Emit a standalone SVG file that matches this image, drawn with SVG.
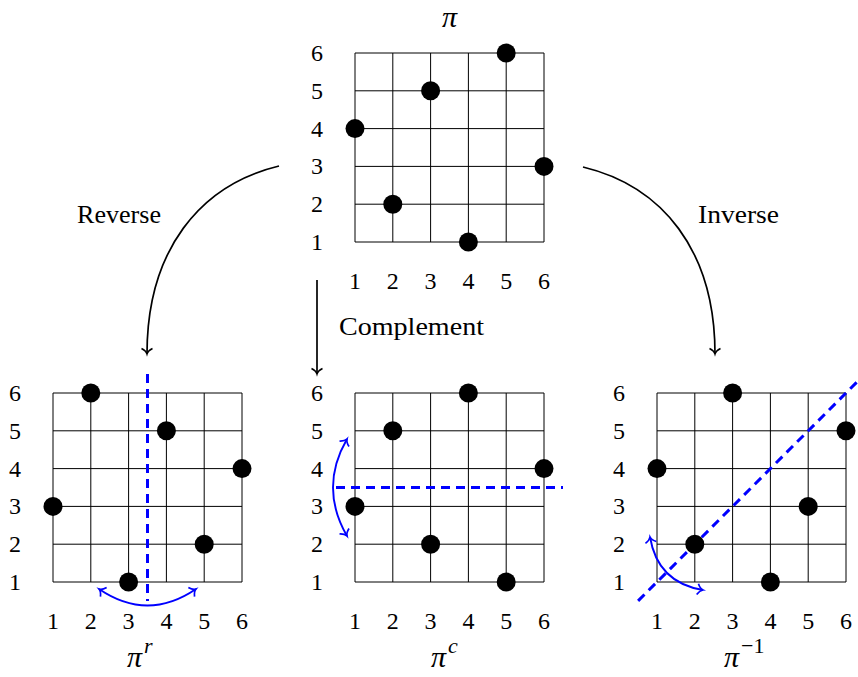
<svg xmlns="http://www.w3.org/2000/svg" width="858" height="677" viewBox="0 0 858 677">
<style>
.grid line{stroke:#000;stroke-width:1}
.dot{fill:#000}
.lbl{font-size:24px;fill:#000;text-anchor:middle}
.word{font-size:25px;fill:#000}
.ttl{font-style:italic;font-size:30px;fill:#000}
.sup{font-style:italic;font-size:22px;fill:#000}
.supn{font-size:22px;fill:#000}
.conn{fill:none;stroke:#000;stroke-width:1.7;marker-end:url(#ah)}
.sym{fill:none;stroke:#0000ff;stroke-width:3;stroke-dasharray:9 6}
.flip{fill:none;stroke:#0000ff;stroke-width:1.9;marker-start:url(#bh);marker-end:url(#bh)}
</style>
<defs>
<marker id="ah" viewBox="-7 -7 14 14" markerWidth="14" markerHeight="14" markerUnits="userSpaceOnUse" refX="0.5" refY="0" orient="auto">
<path d="M-5,-5.5 C-3.3,-2.2 -0.9,-0.4 0.5,0 C-0.9,0.4 -3.3,2.2 -5,5.5" fill="none" stroke="#000" stroke-width="1.5"/>
</marker>
<marker id="bh" viewBox="-7 -7 14 14" markerWidth="14" markerHeight="14" markerUnits="userSpaceOnUse" refX="0.5" refY="0" orient="auto-start-reverse">
<path d="M-5,-5.5 C-3.3,-2.2 -0.9,-0.4 0.5,0 C-0.9,0.4 -3.3,2.2 -5,5.5" fill="none" stroke="#0000ff" stroke-width="1.7"/>
</marker>
<g id="grid" class="grid">
<line x1="0" y1="0" x2="0" y2="189"/><line x1="37.8" y1="0" x2="37.8" y2="189"/><line x1="75.6" y1="0" x2="75.6" y2="189"/><line x1="113.4" y1="0" x2="113.4" y2="189"/><line x1="151.2" y1="0" x2="151.2" y2="189"/><line x1="189" y1="0" x2="189" y2="189"/>
<line x1="0" y1="0" x2="189" y2="0"/><line x1="0" y1="37.8" x2="189" y2="37.8"/><line x1="0" y1="75.6" x2="189" y2="75.6"/><line x1="0" y1="113.4" x2="189" y2="113.4"/><line x1="0" y1="151.2" x2="189" y2="151.2"/><line x1="0" y1="189" x2="189" y2="189"/>
</g>
</defs>
<rect width="858" height="677" fill="#fff"/>
<g font-family="Liberation Serif, DejaVu Serif, serif">
<g id="pi">
<use href="#grid" x="355" y="53"/>
<text class="ttl" x="449.5" y="27" text-anchor="middle">π</text>
<g class="lbl">
<text x="317" y="250">1</text><text x="317" y="212.2">2</text><text x="317" y="174.4">3</text><text x="317" y="136.6">4</text><text x="317" y="98.8">5</text><text x="317" y="61">6</text>
<text x="355" y="289">1</text><text x="392.8" y="289">2</text><text x="430.6" y="289">3</text><text x="468.4" y="289">4</text><text x="506.2" y="289">5</text><text x="544" y="289">6</text>
</g>
<circle class="dot" cx="355" cy="128.6" r="9.5"/><circle class="dot" cx="392.8" cy="204.2" r="9.5"/><circle class="dot" cx="430.6" cy="90.8" r="9.5"/><circle class="dot" cx="468.4" cy="242" r="9.5"/><circle class="dot" cx="506.2" cy="53" r="9.5"/><circle class="dot" cx="544" cy="166.4" r="9.5"/>
</g>

<g id="pi-r">
<use href="#grid" x="53" y="393"/>
<g class="lbl">
<text x="15" y="590">1</text><text x="15" y="552.2">2</text><text x="15" y="514.4">3</text><text x="15" y="476.6">4</text><text x="15" y="438.8">5</text><text x="15" y="401">6</text>
<text x="53" y="629">1</text><text x="90.8" y="629">2</text><text x="128.6" y="629">3</text><text x="166.4" y="629">4</text><text x="204.2" y="629">5</text><text x="242" y="629">6</text>
</g>
<line class="sym" x1="147.5" y1="374" x2="147.5" y2="601"/>
<path class="flip" d="M99,589 Q147.5,622 196,589"/>
<circle class="dot" cx="53" cy="506.4" r="9.5"/><circle class="dot" cx="90.8" cy="393" r="9.5"/><circle class="dot" cx="128.6" cy="582" r="9.5"/><circle class="dot" cx="166.4" cy="430.8" r="9.5"/><circle class="dot" cx="204.2" cy="544.2" r="9.5"/><circle class="dot" cx="242" cy="468.6" r="9.5"/>
<text x="127" y="667"><tspan class="ttl">π</tspan><tspan class="sup" dx="2" dy="-14">r</tspan></text>
</g>

<g id="pi-c">
<use href="#grid" x="355" y="393"/>
<g class="lbl">
<text x="317" y="590">1</text><text x="317" y="552.2">2</text><text x="317" y="514.4">3</text><text x="317" y="476.6">4</text><text x="317" y="438.8">5</text><text x="317" y="401">6</text>
<text x="355" y="629">1</text><text x="392.8" y="629">2</text><text x="430.6" y="629">3</text><text x="468.4" y="629">4</text><text x="506.2" y="629">5</text><text x="544" y="629">6</text>
</g>
<line class="sym" x1="336" y1="487.5" x2="563" y2="487.5"/>
<path class="flip" d="M347,439 Q319,487.5 347,536"/>
<circle class="dot" cx="355" cy="506.4" r="9.5"/><circle class="dot" cx="392.8" cy="430.8" r="9.5"/><circle class="dot" cx="430.6" cy="544.2" r="9.5"/><circle class="dot" cx="468.4" cy="393" r="9.5"/><circle class="dot" cx="506.2" cy="582" r="9.5"/><circle class="dot" cx="544" cy="468.6" r="9.5"/>
<text x="431" y="667"><tspan class="ttl">π</tspan><tspan class="sup" dx="2" dy="-14">c</tspan></text>
</g>

<g id="pi-inv">
<use href="#grid" x="657" y="393"/>
<g class="lbl">
<text x="619" y="590">1</text><text x="619" y="552.2">2</text><text x="619" y="514.4">3</text><text x="619" y="476.6">4</text><text x="619" y="438.8">5</text><text x="619" y="401">6</text>
<text x="657" y="629">1</text><text x="694.8" y="629">2</text><text x="732.6" y="629">3</text><text x="770.4" y="629">4</text><text x="808.2" y="629">5</text><text x="846" y="629">6</text>
</g>
<line class="sym" x1="638.1" y1="600.9" x2="864.9" y2="374.1"/>
<path class="flip" d="M650,537 Q657.5,582.5 703,590"/>
<circle class="dot" cx="657" cy="468.6" r="9.5"/><circle class="dot" cx="694.8" cy="544.2" r="9.5"/><circle class="dot" cx="732.6" cy="393" r="9.5"/><circle class="dot" cx="770.4" cy="582" r="9.5"/><circle class="dot" cx="808.2" cy="506.4" r="9.5"/><circle class="dot" cx="846" cy="430.8" r="9.5"/>
<text x="724" y="667"><tspan class="ttl">π</tspan><tspan class="supn" dx="2" dy="-14">−1</tspan></text>
</g>

<g id="connectors">
<path class="conn" d="M279,166 C200,185 147,250 147,354"/>
<path class="conn" d="M317,280 L317,374"/>
<path class="conn" d="M583,167 C662,186 715,250 715,354"/>
<text class="word" x="77" y="223" textLength="84" lengthAdjust="spacingAndGlyphs">Reverse</text>
<text class="word" x="339" y="335" textLength="145" lengthAdjust="spacingAndGlyphs">Complement</text>
<text class="word" x="698" y="223" textLength="81" lengthAdjust="spacingAndGlyphs">Inverse</text>
</g>
</g>
</svg>
